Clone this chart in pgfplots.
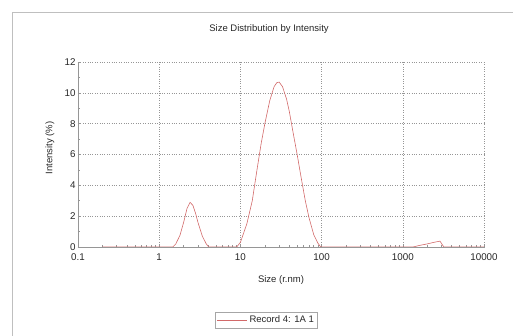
\documentclass[border=0pt]{standalone}
\usepackage{pgfplots}
\pgfplotsset{compat=1.18}
\usepackage{fontspec}
\setmainfont{Liberation Sans}
\definecolor{linec}{RGB}{210,105,105}
\definecolor{gridc}{RGB}{150,150,150}
\begin{document}
\begin{tikzpicture}[x=1pt,y=1pt]
\useasboundingbox (0,0) rectangle (513,336);
\draw[draw=black!25, line width=0.8pt] (12,0) -- (12,324) -- (513,324);
\node[font=\fontsize{9.5}{11}\selectfont, text=black!85] at (269,307) {Size Distribution by Intensity};
\node[font=\fontsize{9.5}{11}\selectfont, text=black!85, rotate=90] at (50,188) {Intensity (\%)};
\node[font=\fontsize{9.5}{11}\selectfont, text=black!85] at (281,56) {Size (r.nm)};
\begin{axis}[
  at={(78pt,89pt)}, anchor=south west,
  scale only axis, width=406pt, height=185pt,
  xmode=log, xmin=0.1, xmax=10000, ymin=0, ymax=12,
  xtick={0.1,1,10,100,1000,10000},
  xticklabels={0.1,1,10,100,1000,10000},
  ytick={0,2,4,6,8,10,12},
  minor y tick num=1,
  axis x line*=bottom, axis y line*=left,
  axis line style={-, draw=gridc, line width=0.6pt},
  grid=major,
  major grid style={draw=gridc, dotted, line width=0.6pt},
  tick style={draw=gridc, line width=0.5pt},
  major tick length=3pt, minor tick length=2pt,
  tick align=inside,
  ticklabel style={font=\fontsize{9.8}{11}\selectfont, text=black!85},
  xticklabel style={yshift=-3pt},
  yticklabel style={xshift=1pt},
  /pgf/number format/assume math mode=true,
  legend style={at={(0.464,-0.395)}, anchor=center, draw=black!35, font=\fontsize{9.5}{11}\selectfont, text=black!85, inner sep=1.5pt},
  legend cell align=left,
  legend image code/.code={\draw[#1] (0pt,0pt) -- (30pt,0pt);},
]
\addplot[color=linec, line width=0.6pt] coordinates {
(0.2,0) (0.5,0) (1.0,0) (1.47,0)
(1.6,0.2) (1.8,0.75) (2.0,1.6) (2.2,2.5) (2.4,2.9) (2.6,2.7) (2.8,2.2) (3.0,1.6) (3.4,0.7) (3.8,0.2) (4.07,0)
(5,0) (7,0) (9.0,0)
(10,0.3) (12,1.5) (14,3.0) (16,5.0) (18,6.7) (20,8.0) (23,9.5) (26,10.4) (28,10.65) (30,10.7) (33,10.4) (37,9.6) (40,8.8) (45,7.3) (50,6.0) (56,4.5) (63,3.0) (70,1.9) (80,0.8) (90,0.25) (97.5,0)
(200,0) (500,0) (1000,0) (1334,0)
(1600,0.1) (2000,0.2) (2400,0.3) (2870,0.38) (3200,0)
(5000,0) (10000,0)
};
\addlegendentry{Record 4: 1A 1}
\end{axis}
\end{tikzpicture}
\end{document}
